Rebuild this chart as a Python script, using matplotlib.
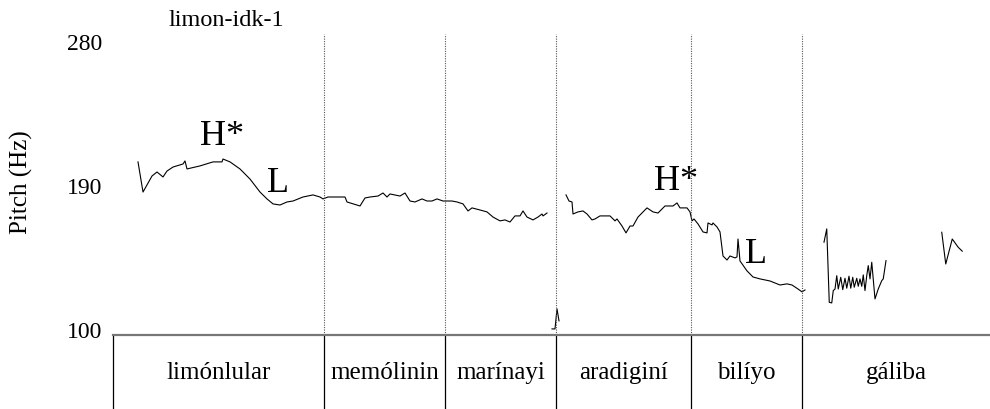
import numpy as np
import matplotlib
matplotlib.use("Agg")
import matplotlib.pyplot as plt

plt.rcParams['font.family'] = ['Liberation Serif', 'DejaVu Serif']

# pitch contour (time in s, pitch in Hz), one list per voiced stretch
t1 = [0.100, 0.120, 0.156, 0.176, 0.200, 0.216, 0.240, 0.280, 0.288, 0.296,
      0.348, 0.400, 0.436, 0.440, 0.468, 0.508, 0.548, 0.588, 0.616, 0.640,
      0.668, 0.696, 0.720, 0.760, 0.800, 0.828, 0.840, 0.860, 0.928, 0.936,
      0.988, 1.008, 1.028, 1.060, 1.080, 1.096, 1.108, 1.148, 1.168, 1.188,
      1.208, 1.236, 1.256, 1.276, 1.296, 1.320, 1.356, 1.376, 1.400, 1.420,
      1.436, 1.468, 1.496, 1.520, 1.548, 1.568, 1.588, 1.608, 1.628, 1.640,
      1.656, 1.680, 1.700, 1.716, 1.720, 1.736]
f1 = [204.3, 185.5, 195.5, 198.0, 194.9, 198.6, 201.1, 203.0, 204.9, 199.9,
      201.8, 204.3, 204.3, 206.1, 204.3, 199.9, 193.6, 185.5, 181.2, 178.1,
      177.4, 179.3, 179.9, 182.4, 183.7, 182.4, 181.2, 182.4, 182.4, 179.3,
      176.8, 181.8, 182.4, 183.0, 184.9, 182.4, 184.3, 183.0, 184.9, 179.9,
      179.3, 181.2, 179.9, 179.9, 181.2, 179.9, 179.9, 179.3, 178.1, 173.7,
      175.6, 174.3, 173.1, 169.9, 167.5, 168.1, 166.8, 170.6, 170.6, 173.7,
      169.9, 168.1, 169.9, 171.8, 170.6, 172.4]

t2 = [1.756, 1.768, 1.776, 1.784]
f2 = [100.1, 100.1, 112.6, 105.1]

t3 = [1.812, 1.824, 1.836, 1.840, 1.860, 1.880, 1.896, 1.916, 1.928, 1.948,
      1.988, 2.008, 2.016, 2.036, 2.052, 2.068, 2.080, 2.100, 2.136, 2.160,
      2.180, 2.208, 2.240, 2.256, 2.268, 2.296, 2.308, 2.316, 2.324, 2.340,
      2.360, 2.376, 2.380, 2.396, 2.400, 2.416, 2.428, 2.440, 2.456, 2.468,
      2.488, 2.496, 2.500, 2.508, 2.536, 2.560, 2.588, 2.628, 2.668, 2.696,
      2.716, 2.740, 2.756, 2.768]
f3 = [183.7, 179.9, 179.3, 171.8, 173.1, 173.7, 171.8, 168.1, 168.7, 170.6,
      170.6, 167.5, 168.7, 164.3, 160.0, 164.3, 164.3, 169.9, 175.6, 173.1,
      172.4, 176.8, 176.8, 178.7, 175.6, 175.6, 173.1, 167.5, 168.7, 165.6,
      160.6, 160.0, 166.2, 165.0, 166.2, 163.7, 160.6, 145.6, 143.1, 145.6,
      144.4, 145.0, 156.2, 142.5, 136.3, 132.5, 131.3, 130.0, 127.5, 128.2,
      127.5, 125.0, 123.2, 124.4]

t4 = [2.844, 2.855, 2.865, 2.875, 2.881, 2.888, 2.895, 2.901, 2.911, 2.919,
      2.928, 2.935, 2.944, 2.951, 2.959, 2.965, 2.975, 2.981, 2.988, 2.995,
      3.001, 3.008, 3.015, 3.021, 3.028, 3.035, 3.048, 3.061, 3.075, 3.081,
      3.092]
f4 = [154.2, 162.5, 116.7, 116.3, 124.0, 125.0, 133.3, 125.0, 132.3, 124.6,
      131.7, 125.5, 133.0, 125.5, 132.3, 126.1, 131.7, 126.7, 131.3, 126.7,
      133.8, 124.0, 133.3, 139.6, 131.3, 141.7, 118.8, 125.0, 130.2, 131.3,
      142.7]

t5 = [3.315, 3.331, 3.357, 3.381, 3.397]
f5 = [160.4, 140.6, 156.2, 151.0, 148.6]

segments = [(t1, f1), (t2, f2), (t3, f3), (t4, f4), (t5, f5)]

# word tier
boundaries = [0.0, 0.844, 1.328, 1.772, 2.312, 2.756, 3.508]
words = ["limónlular", "memólinin", "marínayi", "aradiginí", "bilíyo", "gáliba"]

# tone labels
tones = ["H*", "L", "H*", "L"]
tone_t = [0.436, 0.660, 2.252, 2.572]
tone_f = [215.5, 186.3, 187.4, 141.7]

yticks = [100, 190, 280]

fig = plt.figure(figsize=(9.9, 4.1), dpi=100)
left = 113 / 990
bot = 1 - 336 / 410
top = 1 - 35 / 410

ax = fig.add_axes([left, bot, 1 - left, top - bot])
for t, f in segments:
    ax.plot(t, f, color="black", lw=0.8)
for b in boundaries[1:-1]:
    ax.axvline(b, color="#555555", lw=0.8, ls=(0, (1, 1.2)))
for lab, tt, ff in zip(tones, tone_t, tone_f):
    ax.text(tt, ff, lab, fontsize=26, ha="center", va="baseline")
ax.set_xlim(boundaries[0], boundaries[-1])
ax.set_ylim(96.3, 284.1)
ax.set_yticks(yticks)
ax.set_yticklabels([str(v) for v in yticks], fontsize=17)
ax.tick_params(axis="y", length=0, pad=8)
ax.set_xticks([])
for s in ax.spines.values():
    s.set_visible(False)

tier = fig.add_axes([left, 0, 1 - left, bot])
tier.set_xlim(boundaries[0], boundaries[-1])
tier.set_ylim(0, 1)
for b in boundaries[1:-1]:
    tier.axvline(b, color="black", lw=0.9)
for i, w in enumerate(words):
    tier.text((boundaries[i] + boundaries[i + 1]) / 2, 0.5, w, fontsize=18,
              ha="center", va="center")
tier.set_xticks([])
tier.set_yticks([])
tier.spines["top"].set_color("#777777")
tier.spines["top"].set_linewidth(1.6)
tier.spines["left"].set_linewidth(0.9)
tier.spines["right"].set_visible(False)
tier.spines["bottom"].set_visible(False)

fig.text(21 / 990, 1 - 182.5 / 410, "Pitch (Hz)", rotation=90, fontsize=18,
         ha="center", va="center")
fig.text(226 / 990, 1 - 26.5 / 410, "limon-idk-1", fontsize=17.5,
         ha="center", va="baseline")

fig.savefig("out.png", dpi=100)
